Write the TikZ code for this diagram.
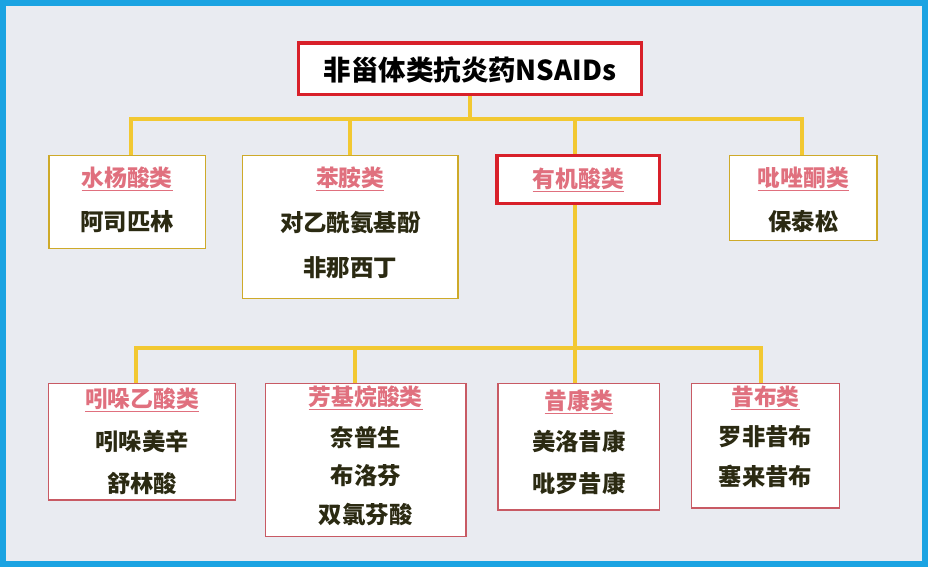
\documentclass[tikz,border=0pt]{standalone}
\usepackage{fontspec}
\setmainfont{Noto Sans CJK SC}
\usepackage{tikz}
\usetikzlibrary{positioning}
\definecolor{linkyellow}{HTML}{F2C832}
\definecolor{headpink}{HTML}{E0707E}
\definecolor{drugtext}{HTML}{2B2A12}
\definecolor{framecyan}{HTML}{1BA3E2}
\definecolor{bgray}{HTML}{E9EBF1}
\definecolor{boxred}{HTML}{D8202A}
\definecolor{thinred}{HTML}{C85A64}

\begin{document}
\begin{tikzpicture}[x=0.03cm,y=-0.03cm,
  link/.style={draw=linkyellow,line width=3.4pt},
  yelbox/.style={draw=linkyellow!85!black,line width=1.2pt,fill=white,inner sep=0pt},
  redbox/.style={draw=thinred,line width=1pt,fill=white,inner sep=0pt},
  keybox/.style={draw=boxred,line width=3pt,fill=white,inner sep=0pt},
  head/.style={text=headpink,font=\fontsize{19.5}{22}\selectfont\bfseries,inner sep=0pt},
  drug/.style={text=drugtext,font=\fontsize{20}{22}\selectfont\bfseries,inner sep=0pt}]
% background and frame
\fill[bgray] (0,0) rectangle (928,566);
\draw[framecyan,line width=5pt] (2,2) rectangle (926,564);
% junctions
\coordinate (topbar) at (470,118);
\coordinate (lowbar) at (575,348);
% connectors (drawn below the boxes)
\draw[link] (470,94) -- (topbar);
\draw[link] (130,155) |- (803,118) -- (803,155);
\draw[link] (350,118) -- (350,155);
\draw[link] (575,118) -- (575,155);
\draw[link] (575,203) -- (lowbar);
\draw[link] (135,383) |- (762,348) -- (762,383);
\draw[link] (355,348) -- (355,383);
\draw[link] (575,348) -- (575,383);
% title
\node[keybox,minimum width=10.32cm,minimum height=1.56cm] (title) at (470,68) {};
\node[font=\fontsize{23.5}{26}\selectfont\bfseries,inner sep=0pt] (titletext) at (470,69) {非甾体类抗炎药NSAIDs};
% first row
\node[yelbox,minimum width=4.71cm,minimum height=2.79cm] (salic) at (126.5,201.5) {};
\node[head] (salich) at (126.5,178) {\underline{水杨酸类}};
\node[drug] (aspirin) at (126.5,221) {阿司匹林};
\node[yelbox,minimum width=6.48cm,minimum height=4.29cm] (anil) at (350,226.5) {};
\node[head] (anilh) at (350,178) {\underline{苯胺类}};
\node[drug] (parac) at (350,222) {对乙酰氨基酚};
\node[drug] (phenac) at (350,267) {非那西丁};
\node[keybox,minimum width=4.89cm,minimum height=1.44cm] (acid) at (578.5,179) {};
\node[head] (acidh) at (578.5,179) {\underline{有机酸类}};
\node[yelbox,minimum width=4.44cm,minimum height=2.55cm] (pyraz) at (804,197.5) {};
\node[head] (pyrazh) at (804,178) {\underline{吡唑酮类}};
\node[drug] (phenyl) at (804,221) {保泰松};
% second row
\node[redbox,minimum width=5.61cm,minimum height=3.51cm] (indol) at (141.5,441.5) {};
\node[head] (indolh) at (141.5,400) {\underline{吲哚乙酸类}};
\node[drug] (indom) at (141.5,441) {吲哚美辛};
\node[drug] (sulin) at (141.5,484) {舒林酸};
\node[redbox,minimum width=6.03cm,minimum height=4.62cm] (aryl) at (365.5,460) {};
\node[head] (arylh) at (365.5,398) {\underline{芳基烷酸类}};
\node[drug] (napro) at (365.5,437) {奈普生};
\node[drug] (ibupro) at (365.5,476) {布洛芬};
\node[drug] (diclo) at (365.5,515) {双氯芬酸};
\node[redbox,minimum width=4.86cm,minimum height=3.81cm] (oxicam) at (579,446.5) {};
\node[head] (oxicamh) at (579,402) {\underline{昔康类}};
\node[drug] (melox) at (579,441) {美洛昔康};
\node[drug] (pirox) at (579,484) {吡罗昔康};
\node[redbox,minimum width=4.44cm,minimum height=3.75cm] (coxib) at (766,445.5) {};
\node[head] (coxibh) at (766,398) {\underline{昔布类}};
\node[drug] (rofec) at (766,437) {罗非昔布};
\node[drug] (celec) at (766,476) {塞来昔布};
\end{tikzpicture}
\end{document}
